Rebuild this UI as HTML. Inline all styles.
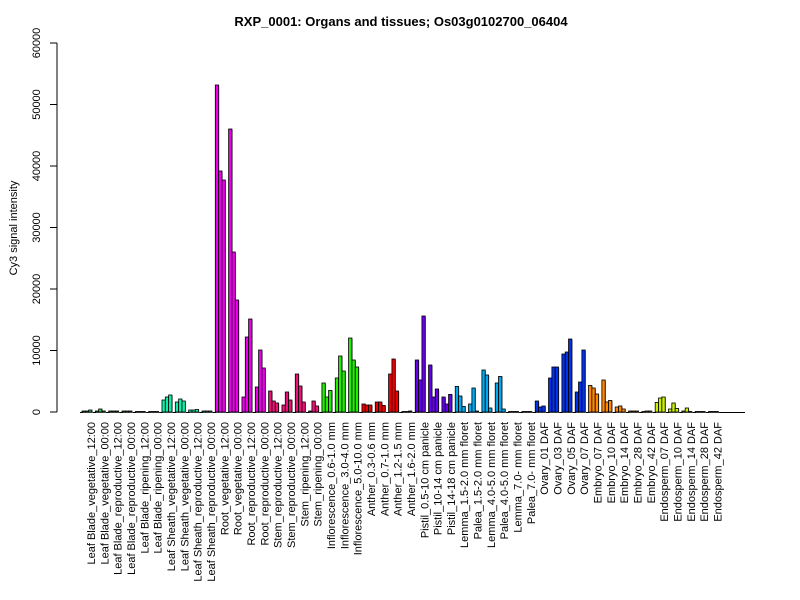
<!DOCTYPE html>
<html><head><meta charset="utf-8"><style>body{margin:0;background:#fff}svg{display:block}text{font-family:"Liberation Sans",sans-serif}</style></head>
<body>
<svg id="s" width="800" height="600" xmlns="http://www.w3.org/2000/svg">
<rect width="800" height="600" fill="#fff"/>
<text x="401" y="26" font-size="13" font-weight="bold" text-anchor="middle">RXP_0001: Organs and tissues; Os03g0102700_06404</text>
<text transform="translate(17,228) rotate(-90)" font-size="11" text-anchor="middle">Cy3 signal intensity</text>
<g stroke="#000" stroke-width="1">
<line x1="57" y1="43" x2="57" y2="412"/>
<line x1="50" y1="43" x2="57" y2="43"/><line x1="50" y1="104.5" x2="57" y2="104.5"/><line x1="50" y1="166" x2="57" y2="166"/><line x1="50" y1="227.5" x2="57" y2="227.5"/><line x1="50" y1="289" x2="57" y2="289"/><line x1="50" y1="350.5" x2="57" y2="350.5"/><line x1="50" y1="412" x2="57" y2="412"/>
<line x1="80" y1="412.5" x2="745" y2="412.5"/>
</g>
<g font-size="11" text-anchor="middle">
<text transform="translate(40,43) rotate(-90)">60000</text>
<text transform="translate(40,104.5) rotate(-90)">50000</text>
<text transform="translate(40,166) rotate(-90)">40000</text>
<text transform="translate(40,227.5) rotate(-90)">30000</text>
<text transform="translate(40,289) rotate(-90)">20000</text>
<text transform="translate(40,350.5) rotate(-90)">10000</text>
<text transform="translate(40,412) rotate(-90)">0</text>
</g>
<g id="bars"></g>
<g font-size="11" text-anchor="end" transform="translate(4,0)">
<text transform="translate(91,422) rotate(-90)">Leaf Blade_vegetative_12:00</text>
<text transform="translate(104.3,422) rotate(-90)">Leaf Blade_vegetative_00:00</text>
<text transform="translate(117.7,422) rotate(-90)">Leaf Blade_reproductive_12:00</text>
<text transform="translate(131,422) rotate(-90)">Leaf Blade_reproductive_00:00</text>
<text transform="translate(144.3,422) rotate(-90)">Leaf Blade_ripening_12:00</text>
<text transform="translate(157.7,422) rotate(-90)">Leaf Blade_ripening_00:00</text>
<text transform="translate(171,422) rotate(-90)">Leaf Sheath_vegetative_12:00</text>
<text transform="translate(184.3,422) rotate(-90)">Leaf Sheath_vegetative_00:00</text>
<text transform="translate(197.6,422) rotate(-90)">Leaf Sheath_reproductive_12:00</text>
<text transform="translate(211,422) rotate(-90)">Leaf Sheath_reproductive_00:00</text>
<text transform="translate(224.3,422) rotate(-90)">Root_vegetative_12:00</text>
<text transform="translate(237.6,422) rotate(-90)">Root_vegetative_00:00</text>
<text transform="translate(251,422) rotate(-90)">Root_reproductive_12:00</text>
<text transform="translate(264.3,422) rotate(-90)">Root_reproductive_00:00</text>
<text transform="translate(277.6,422) rotate(-90)">Stem_reproductive_12:00</text>
<text transform="translate(291,422) rotate(-90)">Stem_reproductive_00:00</text>
<text transform="translate(304.3,422) rotate(-90)">Stem_ripening_12:00</text>
<text transform="translate(317.6,422) rotate(-90)">Stem_ripening_00:00</text>
<text transform="translate(330.9,422) rotate(-90)">Inflorescence_0.6-1.0 mm</text>
<text transform="translate(344.3,422) rotate(-90)">Inflorescence_3.0-4.0 mm</text>
<text transform="translate(357.6,422) rotate(-90)">Inflorescence_5.0-10.0 mm</text>
<text transform="translate(370.9,422) rotate(-90)">Anther_0.3-0.6 mm</text>
<text transform="translate(384.3,422) rotate(-90)">Anther_0.7-1.0 mm</text>
<text transform="translate(397.6,422) rotate(-90)">Anther_1.2-1.5 mm</text>
<text transform="translate(410.9,422) rotate(-90)">Anther_1.6-2.0 mm</text>
<text transform="translate(424.3,422) rotate(-90)">Pistil_0.5-10 cm panicle</text>
<text transform="translate(437.6,422) rotate(-90)">Pistil_10-14 cm panicle</text>
<text transform="translate(450.9,422) rotate(-90)">Pistil_14-18 cm panicle</text>
<text transform="translate(464.2,422) rotate(-90)">Lemma_1.5-2.0 mm floret</text>
<text transform="translate(477.6,422) rotate(-90)">Palea_1.5-2.0 mm floret</text>
<text transform="translate(490.9,422) rotate(-90)">Lemma_4.0-5.0 mm floret</text>
<text transform="translate(504.2,422) rotate(-90)">Palea_4.0-5.0 mm floret</text>
<text transform="translate(517.6,422) rotate(-90)">Lemma_7.0- mm floret</text>
<text transform="translate(530.9,422) rotate(-90)">Palea_7.0- mm floret</text>
<text transform="translate(544.2,422) rotate(-90)">Ovary_01 DAF</text>
<text transform="translate(557.6,422) rotate(-90)">Ovary_03 DAF</text>
<text transform="translate(570.9,422) rotate(-90)">Ovary_05 DAF</text>
<text transform="translate(584.2,422) rotate(-90)">Ovary_07 DAF</text>
<text transform="translate(597.5,422) rotate(-90)">Embryo_07 DAF</text>
<text transform="translate(610.9,422) rotate(-90)">Embryo_10 DAF</text>
<text transform="translate(624.2,422) rotate(-90)">Embryo_14 DAF</text>
<text transform="translate(637.5,422) rotate(-90)">Embryo_28 DAF</text>
<text transform="translate(650.9,422) rotate(-90)">Embryo_42 DAF</text>
<text transform="translate(664.2,422) rotate(-90)">Endosperm_07 DAF</text>
<text transform="translate(677.5,422) rotate(-90)">Endosperm_10 DAF</text>
<text transform="translate(690.9,422) rotate(-90)">Endosperm_14 DAF</text>
<text transform="translate(704.2,422) rotate(-90)">Endosperm_28 DAF</text>
<text transform="translate(717.5,422) rotate(-90)">Endosperm_42 DAF</text>
</g>
</svg>
<script>
var H=[[1,1,2],[1,3,1],[1,1,1],[1,1,1],[0.5,0.5,0.5],[0.5,0.5,0.5],[12,15,17],[10,13,11],[2,2,2.5],[1,1,1],
[327,241,232],[283,160,112],[15,75,93],[25,62,44],[21,11,9],[7,20,12],[38,26,10],[1,11,6],
[29,15,21.6],[34,56,41],[74,52,45],[8,7,7],[10,10,6.6],[38,53,21],[0.5,0.5,1],
[52,32,96],[47,15,23],[15,8,17.6],[25.6,16,5.6],[8,24,1],[42,37,4],[29,35.6,3],[0.5,0.5,0.5],[0.5,0.5,0.5],
[11,5,6],[34,45,45],[58,60,73],[20,30,62],[26.6,24,18],[32,10,11.6],[5,6,3],[1,1,1],[0.5,1,1],
[9.6,14,15],[3,9,3.6],[1,4,0.5],[0.5,0.5,0.5],[0.5,0.5,0.5]];
function col(g){if(g<6)return"#22cc44";if(g<10)return"#11eeaa";if(g<14)return"#ee00ee";if(g<18)return"#ee1177";if(g<21)return"#22ee00";if(g<25)return"#ee0000";if(g<28)return"#6600ee";if(g<34)return"#00aaee";if(g<38)return"#0033ee";if(g<43)return"#ff8800";return"#ccee00";}
var s="";for(var g=0;g<48;g++)for(var i=0;i<3;i++){var x=82+13.33*g+3.33*i,h=H[g][i];
s+='<rect x="'+(x+0.8).toFixed(2)+'" y="'+(412-h+0.8).toFixed(2)+'" width="3.33" height="'+h+'" fill="#aaa"/>';
s+='<rect x="'+x.toFixed(2)+'" y="'+(412-h).toFixed(2)+'" width="3.33" height="'+h+'" fill="'+col(g)+'" stroke="#000" stroke-width="0.8"/>';}
document.getElementById("bars").innerHTML=s;
</script>
</body></html>
